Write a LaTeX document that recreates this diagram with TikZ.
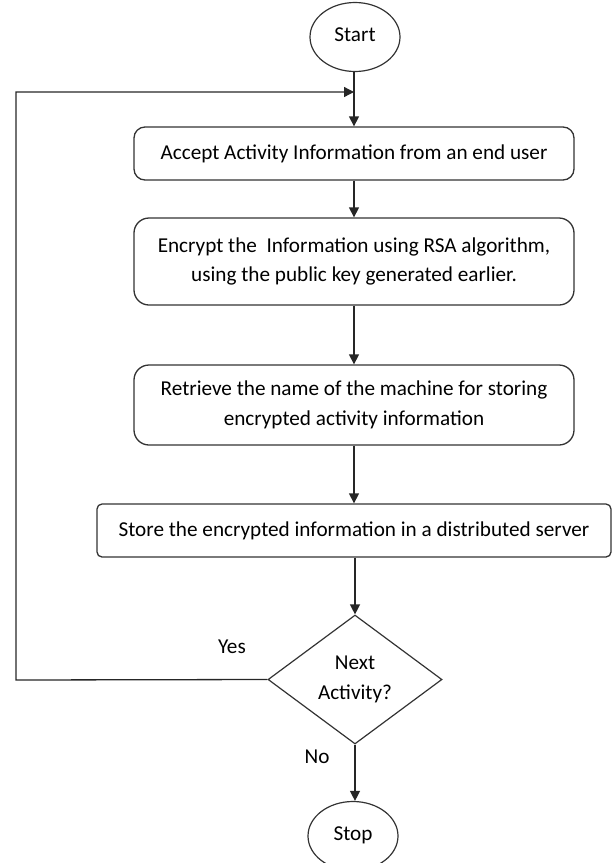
\documentclass[tikz,border=0pt]{standalone}
\usepackage{fontspec}
\setmainfont{Carlito}
\usetikzlibrary{shapes.geometric,arrows.meta}
\begin{document}
\begin{tikzpicture}[x=1pt,y=-1pt,
  font=\fontsize{21.2}{29.5}\selectfont,
  every node/.style={text=black},
  stepbox/.style={draw=black!80,line width=1.3pt,rounded corners=11pt,
    align=center,inner sep=0pt,minimum width=440pt},
  termbox/.style={draw=black!80,line width=1.2pt,ellipse,inner sep=0pt,
    minimum width=90pt,minimum height=69pt},
  decbox/.style={draw=black!80,line width=1.2pt,diamond,inner sep=0pt,
    minimum width=174pt,minimum height=129pt,align=center},
  flow/.style={draw=black!85,line width=1.3pt,-{Triangle[length=10pt,width=10pt]}}]
\useasboundingbox (0,0) rectangle (613,863);

% terminals
\node[termbox] (start) at (355,37) {\raisebox{4pt}{Start}};
\node[termbox] (stop) at (353,836) {\raisebox{4pt}{Stop}};

% process steps
\node[stepbox,minimum height=53pt] (accept) at (354,153.5)
  {Accept Activity Information from an end user};
\node[stepbox,minimum height=87pt,rounded corners=15pt] (encrypt) at (354,261.5)
  {Encrypt the\ \ Information using RSA algorithm,\\using the public key generated earlier.};
\node[stepbox,minimum height=80pt,rounded corners=15pt] (retrieve) at (354,405)
  {Retrieve the name of the machine for storing\\encrypted activity information};
\node[stepbox,minimum width=514pt,minimum height=53pt,rounded corners=5pt] (store) at (354,530.5)
  {Store the encrypted information in a distributed server};

% decision
\node[decbox] (next) at (355,679.5) {Next\\Activity?};

% loop-back helpers
\coordinate (join) at (354,92);
\coordinate (cornerlow) at (16,680);
\coordinate (cornerup) at (16,92);

% main flow
\draw[flow] (start.south -| join) -- (accept.north);
\draw[flow] (accept) -- (encrypt);
\draw[flow] (encrypt) -- (retrieve);
\draw[flow] (retrieve) -- (store);
\draw[flow] (store.south -| next.north) -- (next.north);
\draw[flow] (next.south) -- (stop.north -| next.south);

% loop back
\draw[flow] (next.west) -- (cornerlow) -- (cornerup) -- (join);

% branch labels
\node (yes) at (232,647) {Yes};
\node (no) at (317,757) {No};
\end{tikzpicture}
\end{document}
